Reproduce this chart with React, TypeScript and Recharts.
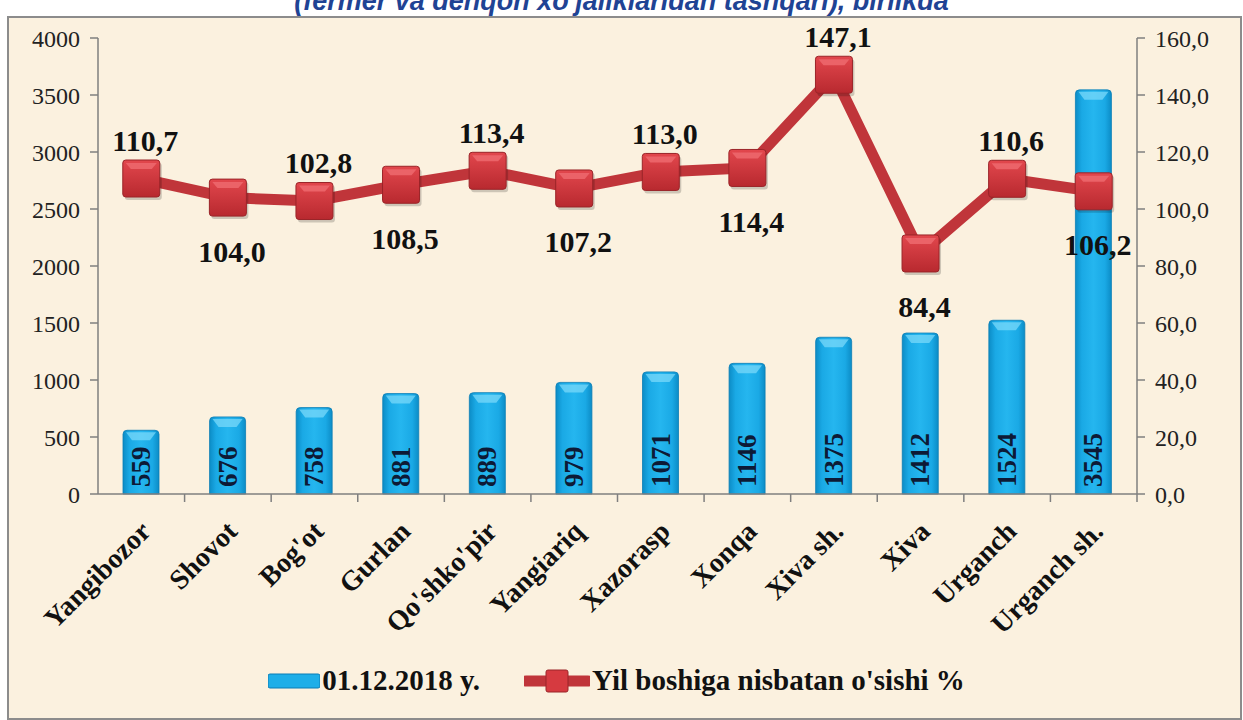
import { Bar, ComposedChart, Legend, LabelList, Line, XAxis, YAxis } from "recharts"

const categories = [
  "Yangibozor",
  "Shovot",
  "Bog'ot",
  "Gurlan",
  "Qo'shko'pir",
  "Yangiariq",
  "Xazorasp",
  "Xonqa",
  "Xiva sh.",
  "Xiva",
  "Urganch",
  "Urganch sh.",
]
const counts = [559, 676, 758, 881, 889, 979, 1071, 1146, 1375, 1412, 1524, 3545]
const growth = [110.7, 104.0, 102.8, 108.5, 113.4, 107.2, 113.0, 114.4, 147.1, 84.4, 110.6, 106.2]
const leftTicks = [0, 500, 1000, 1500, 2000, 2500, 3000, 3500, 4000]
const rightTicks = [0, 20, 40, 60, 80, 100, 120, 140, 160]

const barName = "01.12.2018 y."
const lineName = "Yil boshiga nisbatan o'sishi %"
const title = "(fermer va dehqon xo'jaliklaridan tashqari), birlikda"

const data = categories.map((name, i) => ({ name, count: counts[i], growth: growth[i] }))

const SERIF = "'Liberation Serif', 'Times New Roman', serif"
const comma = (v: number) => v.toFixed(1).replace(".", ",")

const W = 1243
const H = 720
const LEFT_W = 98
const RIGHT_W = 106
const BAND = (W - LEFT_W - RIGHT_W) / categories.length

function BarShape(props: any) {
  const { x, y, width, height } = props
  if (!height || height <= 0) return null
  const r = 4
  const path = `M${x},${y + height} L${x},${y + r} Q${x},${y} ${x + r},${y} L${x + width - r},${y} Q${x + width},${y} ${x + width},${y + r} L${x + width},${y + height} Z`
  return (
    <g>
      <path d={path} fill="url(#barGrad)" stroke="#0b7db5" strokeWidth={0.8} />
      <path
        d={`M${x + 3},${y + 2} L${x + width - 3},${y + 2} L${x + width - 9},${y + 10} L${x + 9},${y + 10} Z`}
        fill="#7fdcfb"
        opacity={0.7}
      />
    </g>
  )
}

function Marker(props: any) {
  const { cx, cy } = props
  if (cx == null || cy == null) return null
  const s = 37
  return (
    <g>
      <rect x={cx - s / 2 + 2} y={cy - s / 2 + 3} width={s} height={s} rx={3} fill="#000" opacity={0.18} />
      <rect x={cx - s / 2} y={cy - s / 2} width={s} height={s} rx={3} fill="url(#markGrad)" stroke="#9a2428" strokeWidth={1} />
      <path
        d={`M${cx - s / 2 + 3},${cy - s / 2 + 3} L${cx + s / 2 - 3},${cy - s / 2 + 3} L${cx + s / 2 - 8},${cy - s / 2 + 9} L${cx - s / 2 + 8},${cy - s / 2 + 9} Z`}
        fill="#ef6b70"
        opacity={0.8}
      />
    </g>
  )
}

function BarValue(props: any) {
  const { x, y, width, height, value } = props
  const cx = x + width / 2
  const by = y + height - 7
  return (
    <text
      x={cx}
      y={by}
      transform={`rotate(-90, ${cx}, ${by})`}
      textAnchor="start"
      dominantBaseline="central"
      fontFamily={SERIF}
      fontWeight="bold"
      fontSize={27}
      fill="#0d1a36"
    >
      {value}
    </text>
  )
}

function LineValue(props: any) {
  const { x, y, value, index } = props
  const above = index % 2 === 0
  return (
    <text
      x={x + 4}
      y={above ? y - 28 : y + 64}
      textAnchor="middle"
      fontFamily={SERIF}
      fontWeight="bold"
      fontSize={30}
      fill="#111"
    >
      {comma(value)}
    </text>
  )
}

function CategoryTick(props: any) {
  const { x, y, payload } = props
  const ax = x + 11
  const ay = y + 31
  return (
    <g>
      <line x1={x + BAND / 2} y1={y - 8} x2={x + BAND / 2} y2={y} stroke="#7f7f7f" strokeWidth={1.5} />
      <text
        x={ax}
        y={ay}
        transform={`rotate(-45, ${ax}, ${ay})`}
        textAnchor="end"
        fontFamily={SERIF}
        fontWeight="bold"
        fontSize={28}
        fill="#111"
      >
        {payload.value}
      </text>
    </g>
  )
}

function LegendBox() {
  return (
    <div
      style={{
        display: "flex",
        justifyContent: "center",
        alignItems: "center",
        fontFamily: SERIF,
        fontWeight: "bold",
        fontSize: 29,
        color: "#111",
        paddingRight: 10,
      }}
    >
      <svg width={52} height={16} style={{ marginRight: 2 }}>
        <rect x={0} y={1} width={52} height={14} rx={2} fill="#1eaee8" stroke="#0b7db5" />
      </svg>
      <span style={{ marginRight: 44 }}>{barName}</span>
      <svg width={66} height={26} style={{ marginRight: 2 }}>
        <line x1={2} y1={13} x2={64} y2={13} stroke="#c0353a" strokeWidth={11} strokeLinecap="round" />
        <rect x={22} y={2} width={22} height={22} rx={2} fill="#d63a40" stroke="#9a2428" />
      </svg>
      <span>{lineName}</span>
    </div>
  )
}

export default function App() {
  return (
    <div style={{ position: "absolute", left: 0, top: 0, width: W, height: H, background: "#fff", overflow: "hidden" }}>
      <div
        style={{
          position: "absolute",
          left: 0,
          width: W,
          top: -14,
          textAlign: "center",
          fontFamily: "'Liberation Sans', Arial, sans-serif",
          fontWeight: "bold",
          fontStyle: "italic",
          fontSize: 27,
          color: "#1f4394",
          whiteSpace: "nowrap",
        }}
      >
        {title}
      </div>
      <div
        style={{
          position: "absolute",
          left: 7,
          top: 16,
          width: 1231,
          height: 700,
          background: "#fbf1df",
          border: "2px solid #8c8c8c",
        }}
      />
      <div style={{ position: "absolute", left: 0, top: 0 }}>
        <ComposedChart width={W} height={H} data={data} margin={{ top: 38, right: 0, bottom: 16, left: 0 }}>
          <defs>
            <linearGradient id="barGrad" x1="0" y1="0" x2="1" y2="0">
              <stop offset="0%" stopColor="#0c8cc6" />
              <stop offset="18%" stopColor="#1aa9e5" />
              <stop offset="50%" stopColor="#25b6ef" />
              <stop offset="82%" stopColor="#1aa9e5" />
              <stop offset="100%" stopColor="#0c8cc6" />
            </linearGradient>
            <linearGradient id="markGrad" x1="0" y1="0" x2="0" y2="1">
              <stop offset="0%" stopColor="#e2474d" />
              <stop offset="100%" stopColor="#b8292f" />
            </linearGradient>
          </defs>
          <XAxis
            dataKey="name"
            height={170}
            interval={0}
            axisLine={{ stroke: "#7f7f7f", strokeWidth: 1.5 }}
            tickLine={false}
            tick={<CategoryTick />}
          />
          <YAxis
            yAxisId="left"
            width={LEFT_W}
            domain={[0, 4000]}
            ticks={leftTicks}
            axisLine={{ stroke: "#7f7f7f", strokeWidth: 1.5 }}
            tickLine={{ stroke: "#7f7f7f", strokeWidth: 1.5 }}
            tickSize={8}
            tickMargin={10}
            tick={{ fontFamily: SERIF, fontSize: 24, fill: "#222" }}
          />
          <YAxis
            yAxisId="right"
            orientation="right"
            width={RIGHT_W}
            domain={[0, 160]}
            ticks={rightTicks}
            tickFormatter={comma}
            axisLine={{ stroke: "#7f7f7f", strokeWidth: 1.5 }}
            tickLine={{ stroke: "#7f7f7f", strokeWidth: 1.5 }}
            tickSize={8}
            tickMargin={10}
            tick={{ fontFamily: SERIF, fontSize: 24, fill: "#222" }}
          />
          <Legend verticalAlign="bottom" height={40} content={() => <LegendBox />} />
          <Bar
            yAxisId="left"
            dataKey="count"
            name={barName}
            barSize={36}
            shape={<BarShape />}
            isAnimationActive={false}
          >
            <LabelList dataKey="count" content={<BarValue />} />
          </Bar>
          <Line
            yAxisId="right"
            dataKey="growth"
            name={lineName}
            type="linear"
            stroke="#c0353a"
            strokeWidth={11}
            dot={<Marker />}
            activeDot={false}
            isAnimationActive={false}
          >
            <LabelList dataKey="growth" content={<LineValue />} />
          </Line>
        </ComposedChart>
      </div>
    </div>
  )
}
